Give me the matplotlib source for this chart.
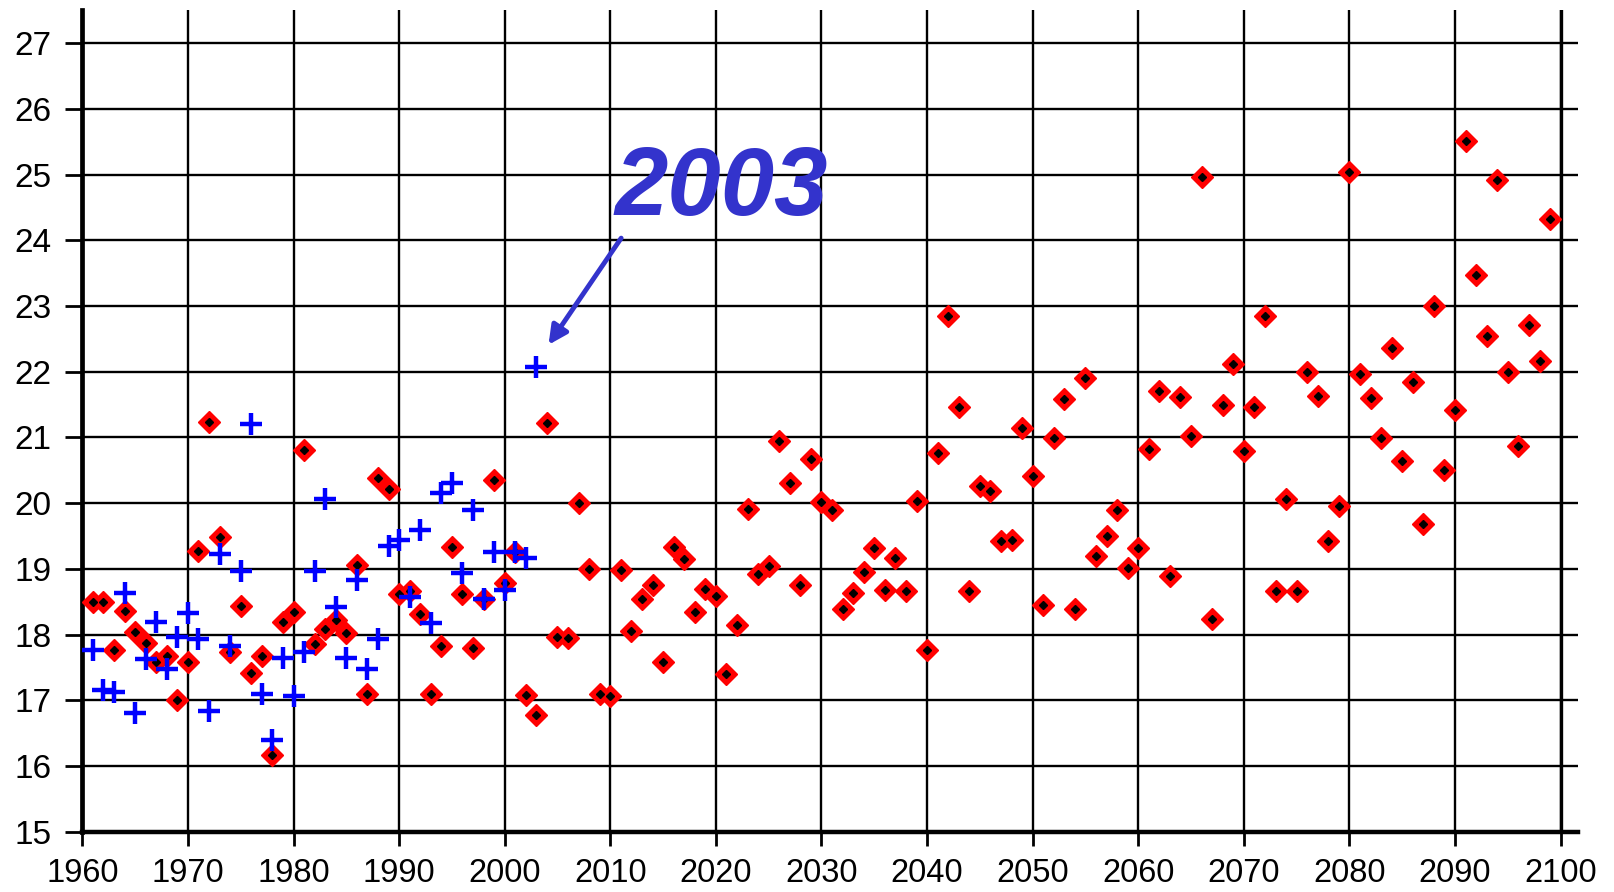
import numpy as np
import matplotlib
matplotlib.use('Agg')
import matplotlib.pyplot as plt

plt.rcParams['font.family'] = ['Liberation Sans', 'DejaVu Sans']

# modelled summer temperatures, one value per year 1961-2099
model_years = np.arange(1961, 2100)
model_temp = [
    18.50, 18.50, 17.77, 18.36, 18.04, 17.87, 17.58, 17.68, 17.01, 17.59,
    19.27, 21.23, 19.49, 17.73, 18.44, 17.41, 17.68, 16.16, 18.19, 18.35,
    20.81, 17.85, 18.08, 18.22, 18.03, 19.06, 17.09, 20.38, 20.21, 18.61,
    18.66, 18.31, 17.09, 17.82, 19.34, 18.61, 17.79, 18.54, 20.36, 18.79,
    19.25, 17.08, 16.77, 21.22, 17.97, 17.95, 20.01, 19.00, 17.09, 17.07,
    18.98, 18.06, 18.54, 18.76, 17.58, 19.34, 19.15, 18.34, 18.70, 18.59,
    17.40, 18.14, 19.91, 18.92, 19.05, 20.95, 20.30, 18.75, 20.67, 20.02,
    19.89, 18.39, 18.63, 18.95, 19.31, 18.68, 19.16, 18.67, 20.04, 17.76,
    20.76, 22.85, 21.47, 18.67, 20.26, 20.19, 19.42, 19.44, 21.15, 20.42,
    18.45, 20.99, 21.58, 18.39, 21.90, 19.20, 19.50, 19.89, 19.02, 19.31,
    20.83, 21.70, 18.89, 21.62, 21.02, 24.96, 18.23, 21.49, 22.12, 20.80,
    21.47, 22.85, 18.67, 20.06, 18.67, 21.99, 21.63, 19.43, 19.96, 25.04,
    21.97, 21.60, 20.99, 22.36, 20.64, 21.84, 19.68, 23.00, 20.50, 21.42,
    25.51, 23.47, 22.54, 24.92, 21.99, 20.87, 22.71, 22.16, 24.33,
]

# observed values 1961-2003
obs_years = np.arange(1961, 2004)
obs_temp = [
    17.76, 17.16, 17.12, 18.63, 16.81, 17.63, 18.19, 17.48, 17.96, 18.33,
    17.93, 16.83, 19.23, 17.83, 18.97, 21.20, 17.10, 16.39, 17.64, 17.07,
    17.73, 18.97, 20.06, 18.42, 17.64, 18.83, 17.47, 17.94, 19.35, 19.44,
    18.57, 19.59, 18.18, 20.16, 20.30, 18.94, 19.89, 18.54, 19.26, 18.68,
    19.25, 19.17, 22.07,
]

x_ticks = np.arange(1960, 2101, 10)
y_ticks = np.arange(15, 28, 1)

highlight_year = 2003
highlight_temp = obs_temp[list(obs_years).index(highlight_year)]

fig = plt.figure(figsize=(16.14, 8.92), dpi=100)
ax = fig.add_axes([0.051, 0.0676, 0.9264, 0.9208])

ax.plot(model_years, model_temp, linestyle='none', marker='D', markersize=11,
        markerfacecolor='#ff0000', markeredgecolor='#ff0000', markeredgewidth=1,
        zorder=3)
ax.plot(model_years, model_temp, linestyle='none', marker='D', markersize=3.6,
        color='black', zorder=4)
ax.plot(obs_years, obs_temp, linestyle='none', marker='+', markersize=16,
        markeredgewidth=3.2, color='#0000ff', zorder=5)

ax.set_xlim(1960, 2101.6)
ax.set_ylim(15, 27.5)
ax.set_xticks(x_ticks)
ax.set_yticks(y_ticks)
ax.grid(True, color='black', linewidth=1.7)
ax.axvline(2100, color='black', linewidth=2.4, zorder=2)

for side in ('top', 'right'):
    ax.spines[side].set_visible(False)
ax.spines['left'].set_linewidth(3.4)
ax.spines['bottom'].set_linewidth(3.2)

ax.tick_params(axis='x', direction='out', length=10, width=2, pad=9,
               labelsize=23.5)
ax.tick_params(axis='y', direction='out', length=12, width=2, pad=10,
               labelsize=24)

ax.annotate(str(highlight_year), xy=(highlight_year + 1.15, highlight_temp + 0.34),
            xytext=(2010.4, 24.38), textcoords='data',
            fontsize=69, fontweight='bold', fontstyle='italic', color='#3333cc',
            ha='left', va='baseline',
            arrowprops=dict(arrowstyle='-|>', color='#3333cc', lw=3.5,
                            mutation_scale=28, shrinkA=0, shrinkB=0,
                            relpos=(0.04, 0.0)))

fig.savefig('out.png', dpi=100)
